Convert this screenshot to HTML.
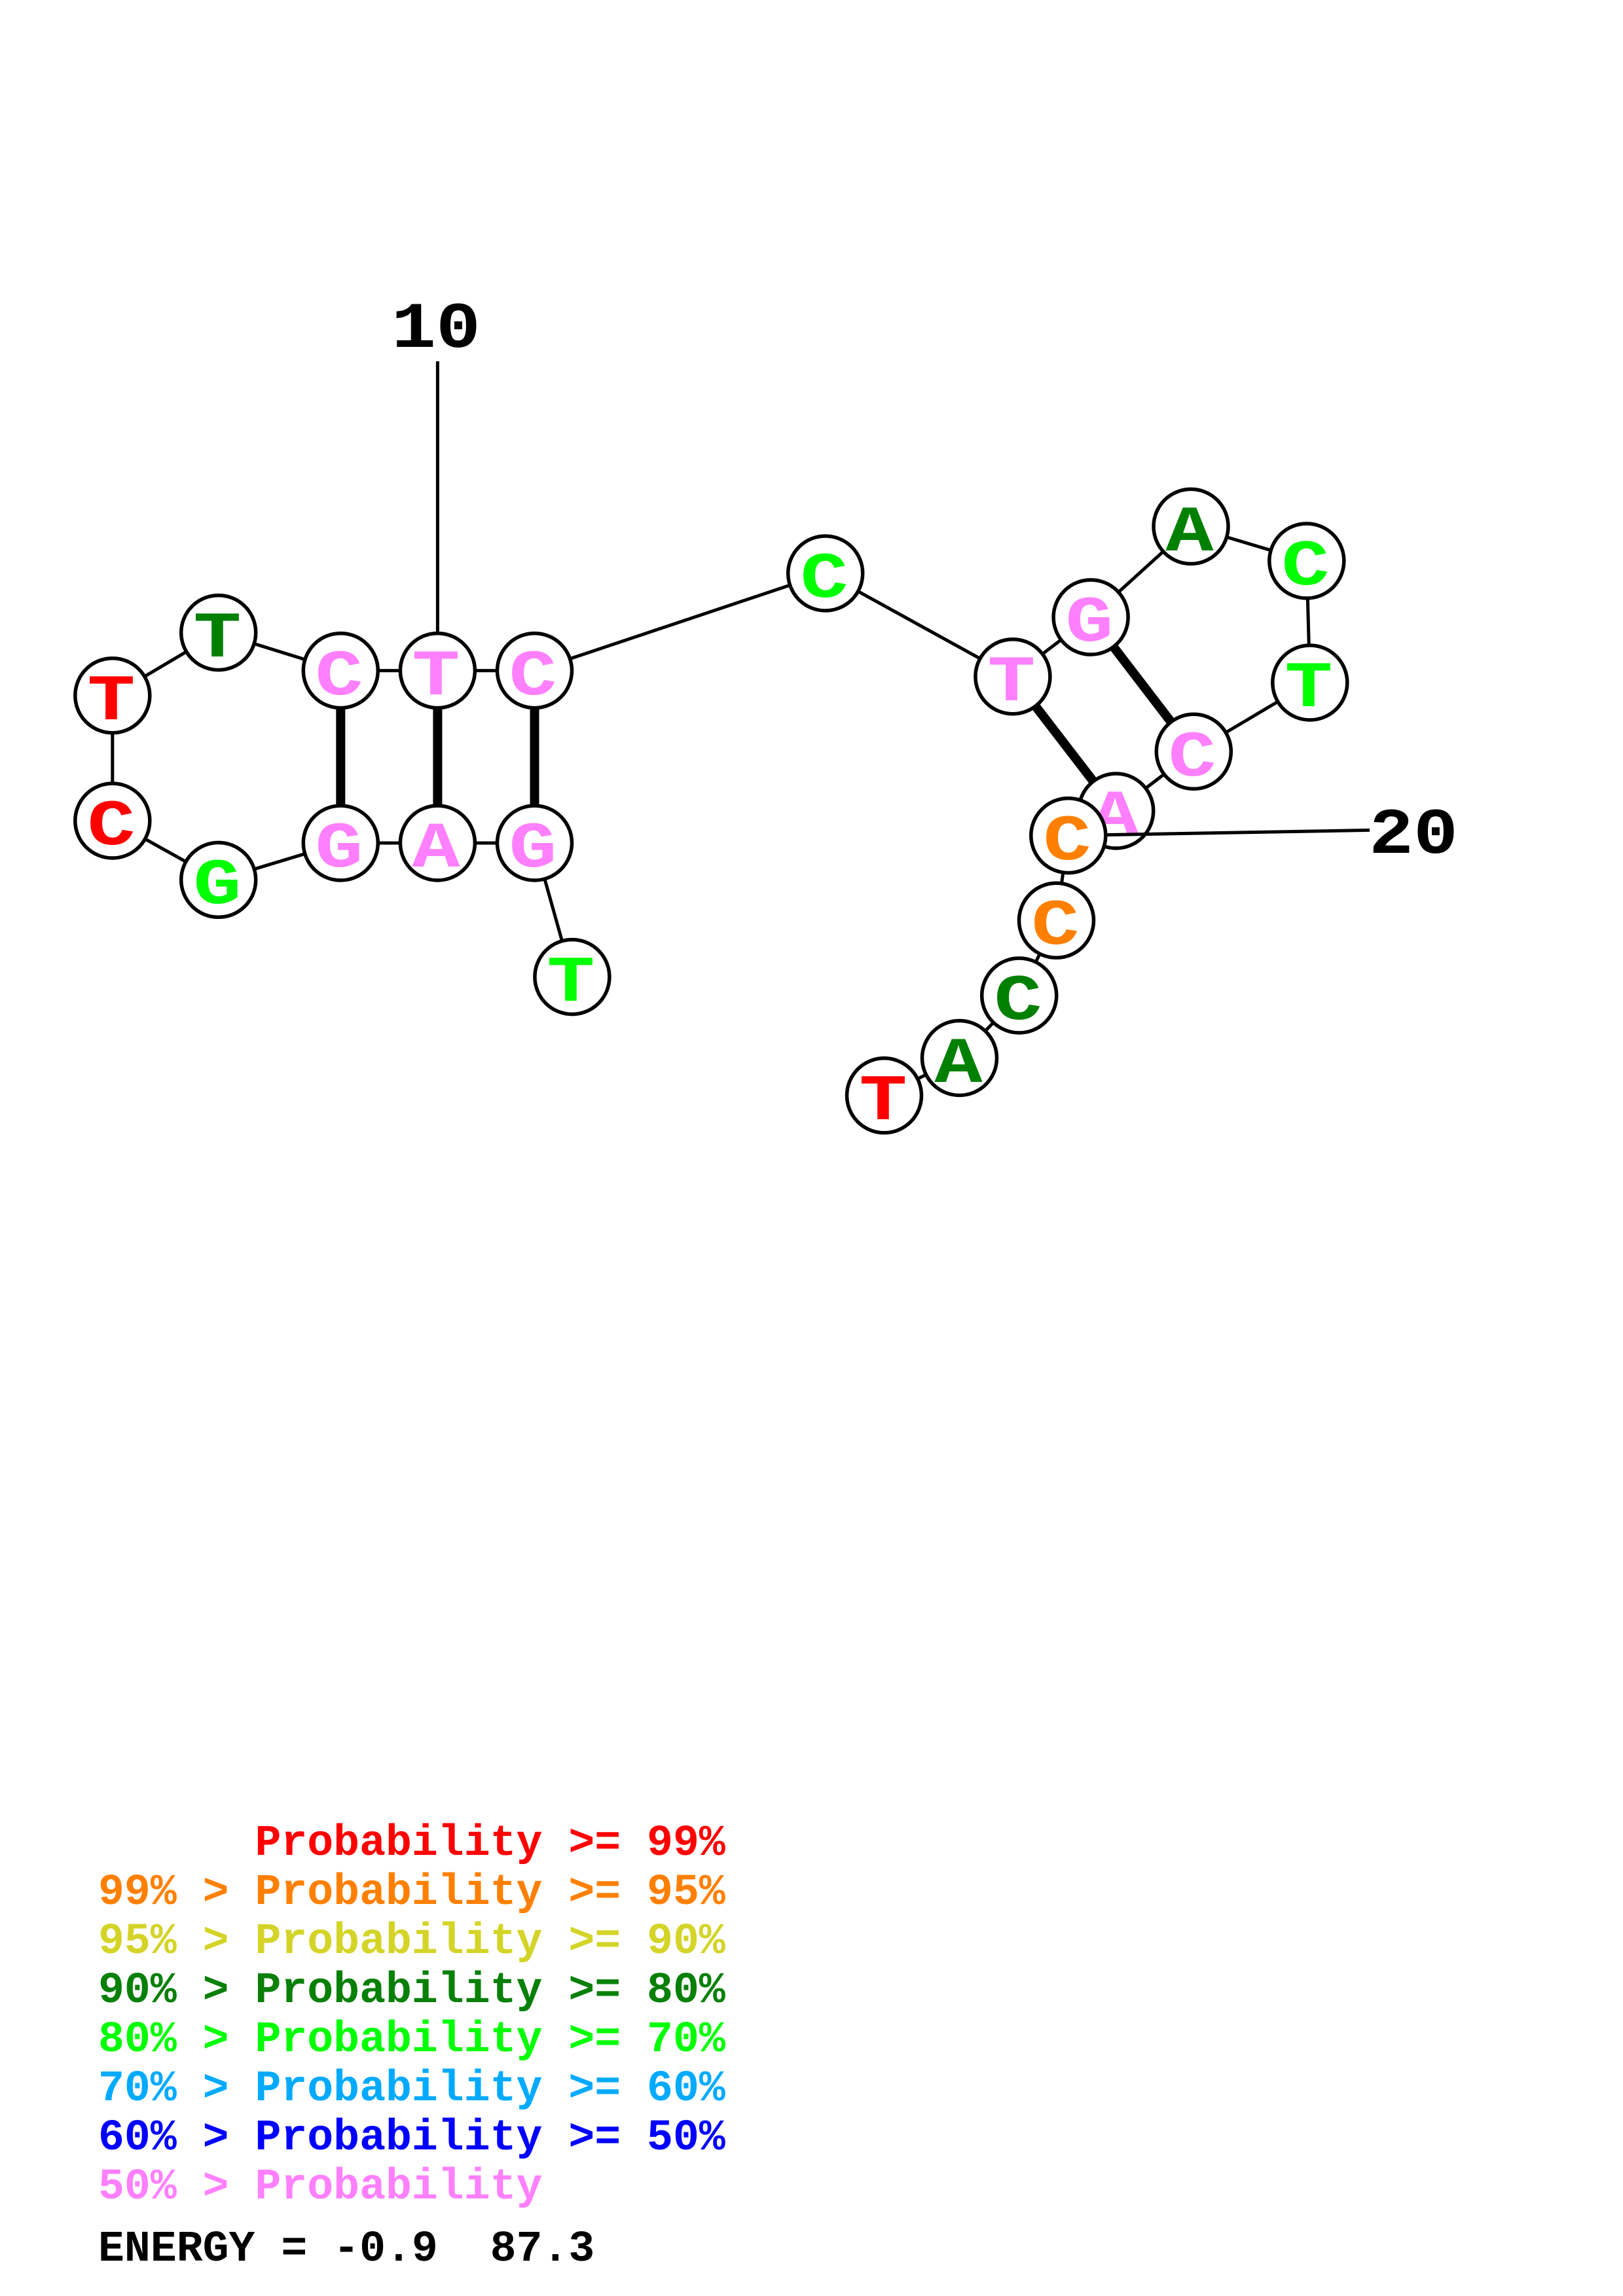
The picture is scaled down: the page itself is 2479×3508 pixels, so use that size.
<!DOCTYPE html>
<html><head><meta charset="utf-8"><style>
html,body{margin:0;padding:0;background:#fff}
svg{display:block}
text{font-family:"Liberation Mono",monospace;font-weight:bold;white-space:pre}
.n{font-size:106px;text-anchor:middle;translate:2px -3px}
.l{font-size:66.5px}
.d{font-size:110px;text-anchor:middle}
.b{stroke:#000;stroke-width:5;fill:none}
.p{stroke:#000;stroke-width:14;fill:none}
circle{fill:#fff;stroke:#000;stroke-width:5.5}
</style></head><body>
<svg width="2479" height="3508" viewBox="0 0 2479 3508" xmlns="http://www.w3.org/2000/svg">
<rect width="2479" height="3508" fill="#fff"/>
<polyline class="b" points="874,1493 816.5,1288 668.4,1288 520.3,1288 333.7,1344.4 171.8,1254 171.8,1062.7 333.7,966.6 520.3,1024.6 668.4,1024.6 816.5,1024.6 1260.7,876 1546.9,1033.7 1666.1,943 1819,804.4 1995.8,857 2000.8,1043 1823.3,1148.3 1704.7,1239"/>
<polyline class="b" points="1631.8,1276.6 1613.5,1406.3 1556.7,1521 1465.5,1616.5 1350.5,1673.8"/>
<line class="b" x1="668.4" y1="552" x2="668.4" y2="1024"/>
<line class="p" x1="520.3" y1="1024.6" x2="520.3" y2="1288"/>
<line class="p" x1="668.4" y1="1024.6" x2="668.4" y2="1288"/>
<line class="p" x1="816.5" y1="1024.6" x2="816.5" y2="1288"/>
<line class="p" x1="1546.9" y1="1033.7" x2="1704.7" y2="1239"/>
<line class="p" x1="1666.1" y1="943" x2="1823.3" y2="1148.3"/>

<circle cx="873.9" cy="1492.6" r="57"/><text class="n" transform="translate(870 1532) scale(1.15 .94)" fill="#00ff00">T</text>
<circle cx="816.5" cy="1288" r="57"/><text class="n" transform="translate(812 1327) scale(1.15 .94)" fill="#ff80ff">G</text>
<circle cx="668.4" cy="1288" r="57"/><text class="n" transform="translate(664 1327) scale(1.15 .94)" fill="#ff80ff">A</text>
<circle cx="520.3" cy="1288" r="57"/><text class="n" transform="translate(516 1327) scale(1.15 .94)" fill="#ff80ff">G</text>
<circle cx="333.7" cy="1344.4" r="57"/><text class="n" transform="translate(330 1383) scale(1.15 .94)" fill="#00ff00">G</text>
<circle cx="171.8" cy="1254" r="57"/><text class="n" transform="translate(168 1293) scale(1.15 .94)" fill="#ff0000">C</text>
<circle cx="171.8" cy="1062.7" r="57"/><text class="n" transform="translate(168 1102) scale(1.15 .94)" fill="#ff0000">T</text>
<circle cx="333.7" cy="966.6" r="57"/><text class="n" transform="translate(330 1006) scale(1.15 .94)" fill="#008000">T</text>
<circle cx="520.3" cy="1024.6" r="57"/><text class="n" transform="translate(516 1064) scale(1.15 .94)" fill="#ff80ff">C</text>
<circle cx="668.4" cy="1024.6" r="57"/><text class="n" transform="translate(664 1064) scale(1.15 .94)" fill="#ff80ff">T</text>
<circle cx="816.5" cy="1024.6" r="57"/><text class="n" transform="translate(812 1064) scale(1.15 .94)" fill="#ff80ff">C</text>
<circle cx="1260.7" cy="876" r="57"/><text class="n" transform="translate(1257 915) scale(1.15 .94)" fill="#00ff00">C</text>
<circle cx="1546.9" cy="1033.7" r="57"/><text class="n" transform="translate(1543 1073) scale(1.15 .94)" fill="#ff80ff">T</text>
<circle cx="1666.1" cy="943" r="57"/><text class="n" transform="translate(1662 982) scale(1.15 .94)" fill="#ff80ff">G</text>
<circle cx="1819" cy="804.4" r="57"/><text class="n" transform="translate(1815 844) scale(1.15 .94)" fill="#008000">A</text>
<circle cx="1995.8" cy="857" r="57"/><text class="n" transform="translate(1992 896) scale(1.15 .94)" fill="#00ff00">C</text>
<circle cx="2000.8" cy="1043" r="57"/><text class="n" transform="translate(1997 1082) scale(1.15 .94)" fill="#00ff00">T</text>
<circle cx="1823.3" cy="1148.3" r="57"/><text class="n" transform="translate(1819 1188) scale(1.15 .94)" fill="#ff80ff">C</text>
<circle cx="1704.7" cy="1239" r="57"/><text class="n" transform="translate(1701 1278) scale(1.15 .94)" fill="#ff80ff">A</text>
<line class="b" x1="1631.8" y1="1276.6" x2="2092" y2="1268.4"/>
<circle cx="1631.8" cy="1276.6" r="57"/><text class="n" transform="translate(1628 1316) scale(1.15 .94)" fill="#ff8000">C</text>
<circle cx="1613.5" cy="1406.3" r="57"/><text class="n" transform="translate(1610 1445) scale(1.15 .94)" fill="#ff8000">C</text>
<circle cx="1556.7" cy="1521" r="57"/><text class="n" transform="translate(1553 1560) scale(1.15 .94)" fill="#008000">C</text>
<circle cx="1465.5" cy="1616.5" r="57"/><text class="n" transform="translate(1462 1656) scale(1.15 .94)" fill="#008000">A</text>
<circle cx="1350.5" cy="1673.8" r="57"/><text class="n" transform="translate(1347 1713) scale(1.15 .94)" fill="#ff0000">T</text>

<text class="d" transform="translate(666 530) scale(1.03 .9)" fill="#000">10</text>
<text class="d" transform="translate(2159 1303) scale(1.03 .9)" fill="#000">20</text>

<text class="l" x="150" y="2834" fill="#ff0000">      Probability &gt;= 99%</text>
<text class="l" x="150" y="2909" fill="#ff8000">99% &gt; Probability &gt;= 95%</text>
<text class="l" x="150" y="2984" fill="#d4d428">95% &gt; Probability &gt;= 90%</text>
<text class="l" x="150" y="3059" fill="#088008">90% &gt; Probability &gt;= 80%</text>
<text class="l" x="150" y="3134" fill="#00ff00">80% &gt; Probability &gt;= 70%</text>
<text class="l" x="150" y="3209" fill="#00aaff">70% &gt; Probability &gt;= 60%</text>
<text class="l" x="150" y="3284" fill="#0000ff">60% &gt; Probability &gt;= 50%</text>
<text class="l" x="150" y="3359" fill="#ff80ff">50% &gt; Probability</text>
<text class="l" x="150" y="3454" fill="#000">ENERGY = -0.9  87.3</text>
</svg>
</body></html>
